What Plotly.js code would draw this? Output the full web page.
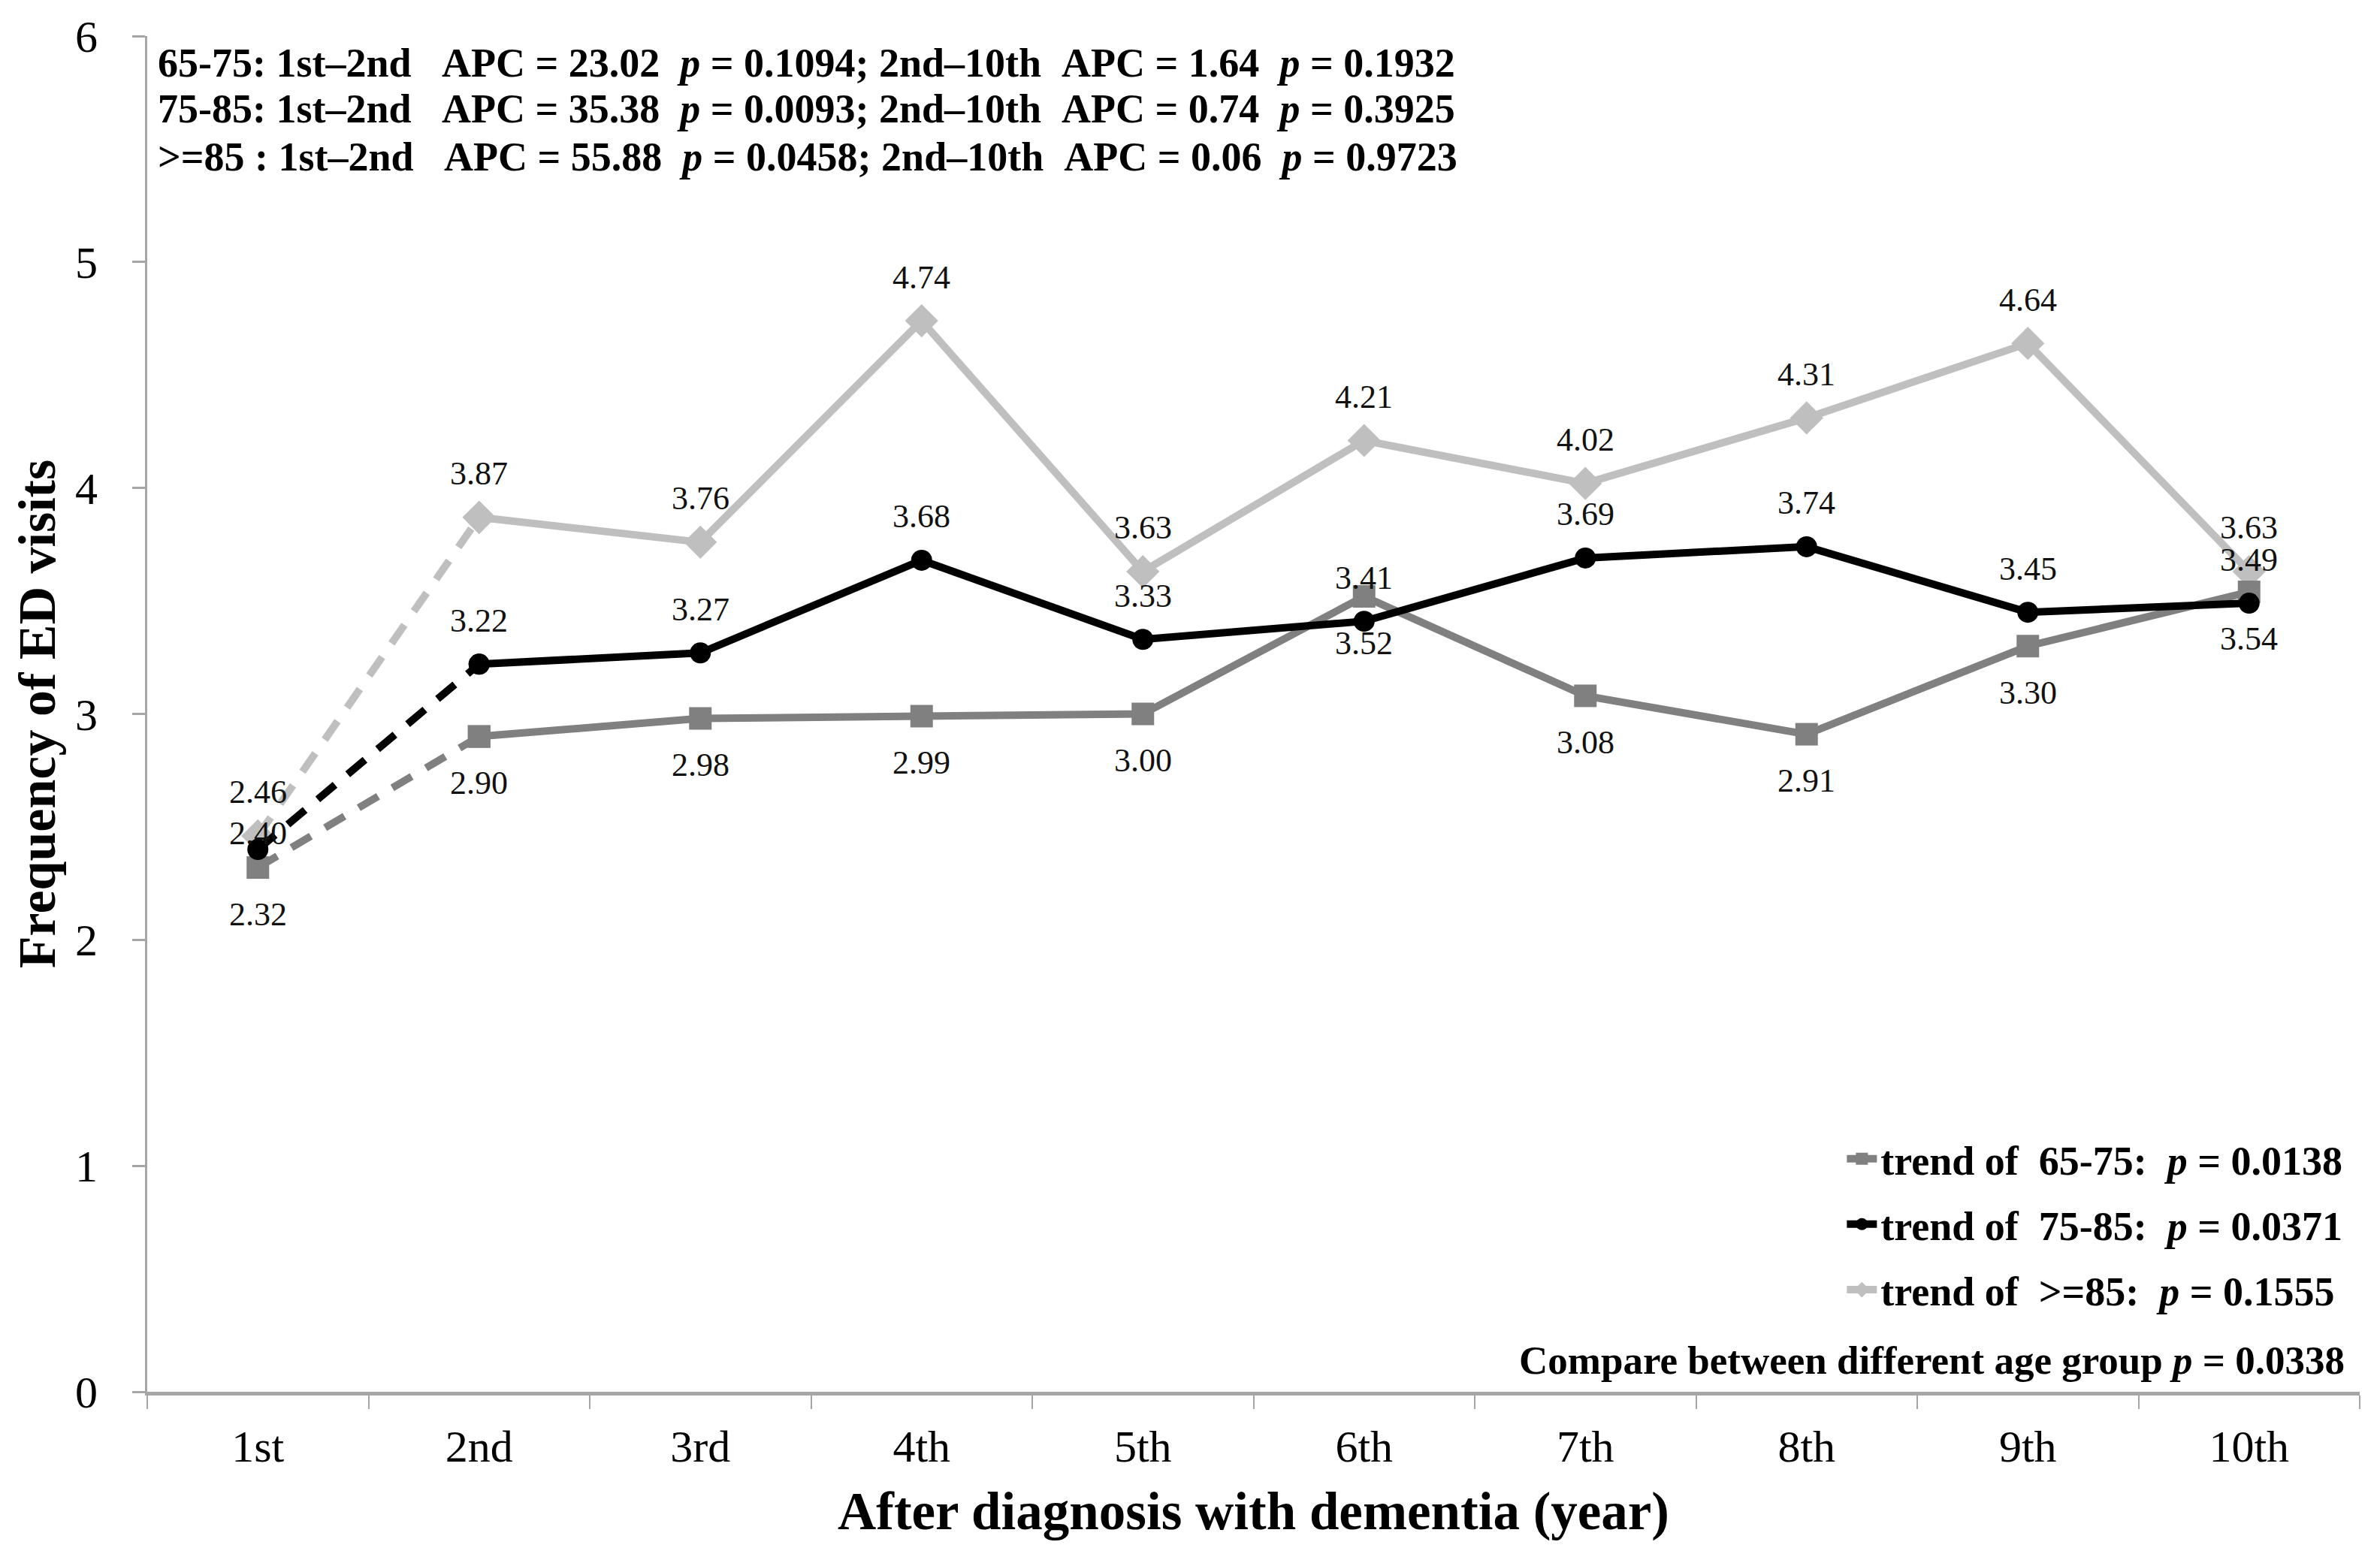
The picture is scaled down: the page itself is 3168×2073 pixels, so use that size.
<!DOCTYPE html>
<html>
<head>
<meta charset="utf-8">
<script src="https://cdn.plot.ly/plotly-3.0.1.min.js"></script>
<style>html,body{margin:0;padding:0;background:#fff;}</style>
</head>
<body>
<div id="chart" style="width:3168px;height:2073px;"></div>
<script>
// ---- data ----
const years = ['1st','2nd','3rd','4th','5th','6th','7th','8th','9th','10th'];
const age6575 = [2.32, 2.90, 2.98, 2.99, 3.00, 3.52, 3.08, 2.91, 3.30, 3.54];
const age7585 = [2.40, 3.22, 3.27, 3.68, 3.33, 3.41, 3.69, 3.74, 3.45, 3.49];
const age85   = [2.46, 3.87, 3.76, 4.74, 3.63, 4.21, 4.02, 4.31, 4.64, 3.63];
const groupNames = ['65-75', '75-85', '>=85'];
const trendP = ['0.0138', '0.0371', '0.1555'];
const compareP = '0.0338';
const apc12 = ['23.02', '35.38', '55.88'];
const p12 = ['0.1094', '0.0093', '0.0458'];
const apc210 = ['1.64', '0.74', '0.06'];
const p210 = ['0.1932', '0.3925', '0.9723'];

const FONT = 'Liberation Serif, Times New Roman, serif';
const NB = '\u00a0';

const series = [
  {vals: age85,   color: '#bfbfbf', symbol: 'diamond', size: 34, label: 'above', name: 'trend of ' + NB + '&gt;=85:' + NB + NB, idx: 2},
  {vals: age6575, color: '#808080', symbol: 'square',  size: 30, label: 'below', name: 'trend of ' + NB + '65-75:' + NB + NB, idx: 0},
  {vals: age7585, color: '#000000', symbol: 'circle',  size: 28, label: 'above', name: 'trend of ' + NB + '75-85:' + NB + NB, idx: 1}
];

const traces = [];
const annotations = [];
series.forEach(s => {
  // dashed 1st-2nd segment
  traces.push({
    x: years.slice(0, 2), y: s.vals.slice(0, 2),
    type: 'scatter', mode: 'lines+markers',
    line: {color: s.color, width: 10, dash: '30px,22px'},
    marker: {color: s.color, symbol: s.symbol, size: s.size},
    showlegend: false, legendgroup: 'g' + s.idx, hoverinfo: 'skip'
  });
  // solid 2nd-10th
  traces.push({
    x: years.slice(1), y: s.vals.slice(1),
    type: 'scatter', mode: 'lines+markers',
    line: {color: s.color, width: 10},
    marker: {color: s.color, symbol: s.symbol, size: s.size},
    name: '<b>' + s.name + '<i>p</i> = ' + trendP[s.idx] + '</b>',
    legendgroup: 'g' + s.idx, legendrank: s.idx + 1
  });
  s.vals.forEach((v, i) => {
    let shift = s.label === 'above' ? 58 : -62;
    if (s.idx === 1 && i === 0) shift = 22; // label nudged to avoid overlap
    annotations.push({
      x: years[i], y: v, xref: 'x', yref: 'y',
      text: v.toFixed(2), showarrow: false, yshift: shift,
      font: {family: FONT, size: 44, color: '#111'}
    });
  });
});

// APC lines at top
const apcY = [0.980, 0.946, 0.911];
groupNames.forEach((g, k) => {
  const lbl = (k === 2 ? '&gt;=85 ' : g) + ':';
  const txt = '<b>' + lbl + ' 1st–2nd' + NB + NB + NB + 'APC = ' + apc12[k] + NB + ' <i>p</i> = ' + p12[k] +
              '; 2nd–10th' + NB + NB + 'APC = ' + apc210[k] + NB + ' <i>p</i> = ' + p210[k] + '</b>';
  annotations.push({
    xref: 'paper', yref: 'paper', x: 0.004, y: apcY[k], xanchor: 'left', yanchor: 'middle',
    text: txt, showarrow: false, font: {family: FONT, size: 54, color: '#000'}
  });
});

annotations.push({
  xref: 'paper', yref: 'paper', x: 0.994, y: 0.023, xanchor: 'right', yanchor: 'middle',
  text: '<b>Compare between different age group <i>p</i> = ' + compareP + '</b>',
  showarrow: false, font: {family: FONT, size: 53, color: '#000'}
});

const layout = {
  width: 3168, height: 2073,
  margin: {l: 196, r: 27, t: 48, b: 220},
  paper_bgcolor: '#fff', plot_bgcolor: '#fff',
  font: {family: FONT, color: '#000'},
  showlegend: true,
  legend: {
    x: 0.994, xanchor: 'right', y: 0.195, yanchor: 'top',
    bgcolor: 'rgba(0,0,0,0)', font: {family: FONT, size: 54, color: '#000'},
    traceorder: 'grouped', tracegroupgap: 14, itemwidth: 40
  },
  xaxis: {
    type: 'category', range: [-0.5, 9.5],
    showline: true, linecolor: '#a6a6a6', linewidth: 5,
    ticks: 'outside', tickson: 'boundaries', ticklen: 18, tickcolor: '#a6a6a6', tickwidth: 2,
    showgrid: false, zeroline: false,
    tickfont: {family: FONT, size: 60, color: '#000'},
    ticklabelstandoff: 16,
    title: {text: '<b>After diagnosis with dementia (year)</b>', font: {family: FONT, size: 71, color: '#000'}, standoff: 30}
  },
  yaxis: {
    range: [0, 6], dtick: 1, tick0: 0,
    showline: true, linecolor: '#a6a6a6', linewidth: 3,
    ticks: 'outside', ticklen: 17, tickcolor: '#a6a6a6', tickwidth: 3,
    showgrid: false, zeroline: false,
    tickfont: {family: FONT, size: 60, color: '#000'},
    ticklabelstandoff: 34,
    title: {text: '<b>Frequency of ED visits</b>', font: {family: FONT, size: 70, color: '#000'}, standoff: 4}
  },
  annotations: annotations
};

Plotly.newPlot('chart', traces, layout, {staticPlot: true, displayModeBar: false});
</script>
</body>
</html>
